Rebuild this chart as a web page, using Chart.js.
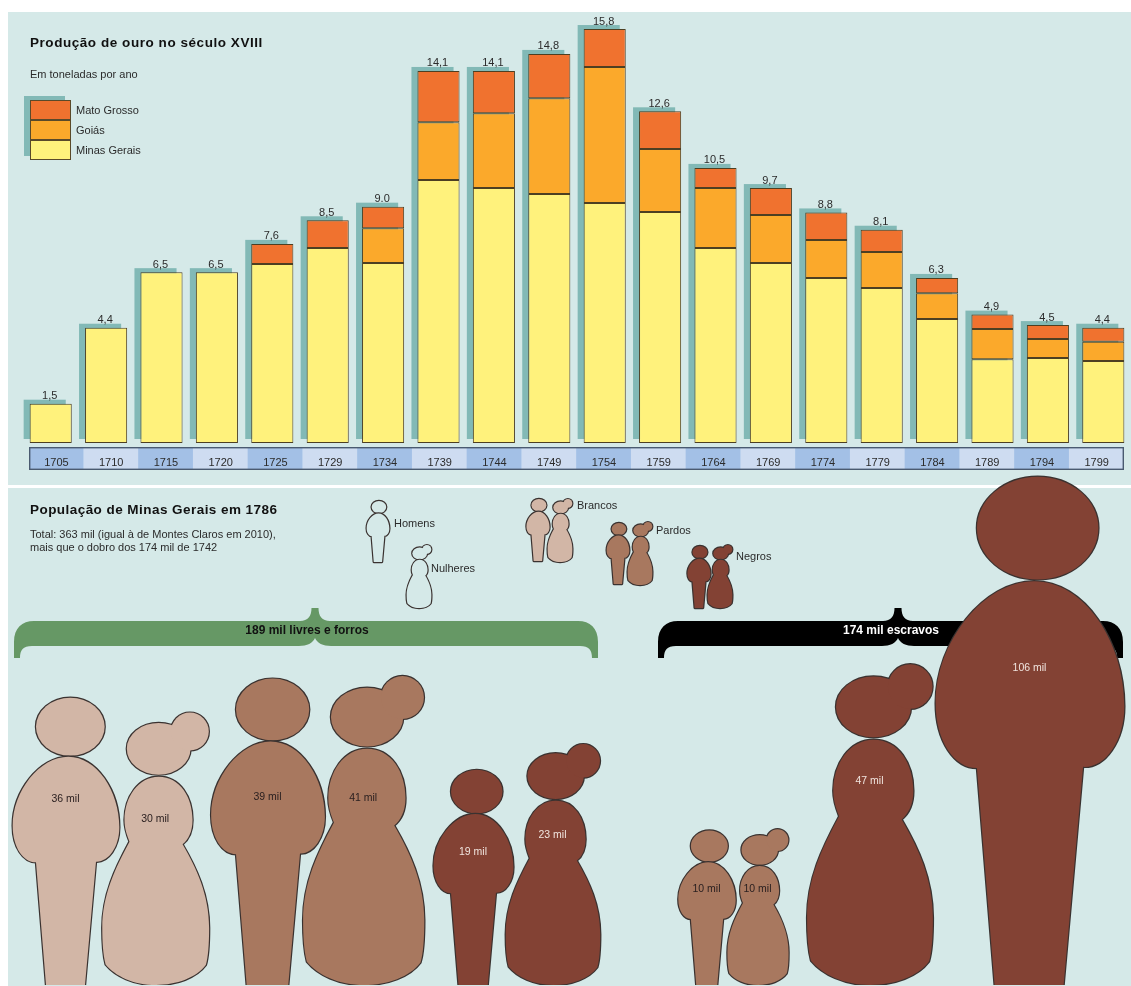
<!DOCTYPE html>
<html>
<head>
    <title>Produção de ouro e população de Minas Gerais</title>
    <style>
        html, body {
            margin: 0;
            padding: 0;
            background-color: #ffffff;
            overflow: hidden;
        }

        .page {
            position: relative;
            width: 1131px;
            height: 986px;
            overflow: hidden;
            font-family: "Liberation Sans", Arial, sans-serif;
            color: #2b2b2b;
        }

        .panel {
            position: absolute;
            left: 8px;
            right: 0;
            background-color: #d5e9e8;
        }

        canvas {
            position: absolute;
        }

        .label {
            position: absolute;
            white-space: nowrap;
            font-size: 11px;
            line-height: 13px;
        }

        .title {
            font-size: 13.5px;
            font-weight: bold;
            letter-spacing: 0.55px;
            color: #111111;
            line-height: 16px;
        }

        .swatch {
            position: absolute;
            left: 30px;
            width: 41px;
            height: 20px;
            box-sizing: border-box;
            border: 1px solid #5a4a2a;
        }
    </style>
    <script src="https://cdnjs.cloudflare.com/ajax/libs/Chart.js/4.4.1/chart.umd.js"></script>
</head>
<body>
    <div class="page" id="page">
        <div class="panel" style="top: 12px; height: 473px;"></div>
        <div class="panel" style="top: 488px; height: 498px;"></div>

        <canvas id="goldChart" width="1108" height="431" style="left: 23px; top: 12px;"></canvas>
        <canvas id="yearChart" width="1095" height="23" style="left: 29px; top: 447px;"></canvas>
        <canvas id="peopleChart" width="1131" height="515" style="left: 0; top: 470px;"></canvas>

        <div class="label title" style="left: 30px; top: 35px;">Produção de ouro no século XVIII</div>
        <div class="label" style="left: 30px; top: 68px;">Em toneladas por ano</div>

        <div style="position: absolute; left: 24px; top: 96px; width: 41px; height: 60px; background-color: #82b9b6;"></div>

        <div class="label title" style="left: 30px; top: 502px; letter-spacing: 0.45px;">População de Minas Gerais em 1786</div>
        <div class="label" style="left: 30px; top: 528px;">Total: 363 mil (igual à de Montes Claros em 2010),<br>mais que o dobro dos 174 mil de 1742</div>

        <div class="label" style="left: 394px; top: 517px;">Homens</div>
        <div class="label" style="left: 431px; top: 562px;">Nulheres</div>
        <div class="label" style="left: 577px; top: 499px;">Brancos</div>
        <div class="label" style="left: 656px; top: 524px;">Pardos</div>
        <div class="label" style="left: 736px; top: 550px;">Negros</div>
    </div>

    <script>
        // Gold production, tonnes per year
        const years = ['1705', '1710', '1715', '1720', '1725', '1729', '1734', '1739', '1744', '1749',
                       '1754', '1759', '1764', '1769', '1774', '1779', '1784', '1789', '1794', '1799'];
        const minasGerais = [1.5, 4.4, 6.52, 6.52, 6.83, 7.44, 6.87, 10.04, 9.73, 9.5,
                             9.16, 8.82, 7.44, 6.87, 6.3, 5.92, 4.73, 3.2, 3.24, 3.13];
        const goias = [null, null, null, null, null, null, 1.33, 2.2, 2.86, 3.66,
                       5.19, 2.4, 2.29, 1.83, 1.45, 1.37, 0.99, 1.15, 0.73, 0.73];
        const matoGrosso = [null, null, null, null, 0.77, 1.06, 0.82, 1.96, 1.61, 1.69,
                            1.45, 1.44, 0.77, 1.03, 1.05, 0.85, 0.58, 0.55, 0.53, 0.54];
        const totalLabels = ['1,5', '4,4', '6,5', '6,5', '7,6', '8,5', '9.0', '14,1', '14,1', '14,8',
                             '15,8', '12,6', '10,5', '9,7', '8,8', '8,1', '6,3', '4,9', '4,5', '4,4'];
        const seriesNames = ['Minas Gerais', 'Goiás', 'Mato Grosso'];

        // Population of Minas Gerais, thousands
        const peopleValues = [36, 30, 39, 41, 19, 23, 10, 10, 47, 106];
        const peopleLabels = ['36 mil', '30 mil', '39 mil', '41 mil', '19 mil', '23 mil', '10 mil', '10 mil', '47 mil', '106 mil'];
        const peopleKinds = ['man', 'woman', 'man', 'woman', 'man', 'woman', 'man', 'woman', 'woman', 'man'];
        const peopleGroups = ['branco', 'branco', 'pardo', 'pardo', 'negro', 'negro', 'pardo', 'pardo', 'negro', 'negro'];
        const bracketLabels = ['189 mil livres e forros', '174 mil escravos'];

        // Layout only: where each figure stands, size corrections and label height
        const peopleSlots = [66, 155.7, 268, 363.7, 473.5, 553, 707, 758, 870, 1030];
        const sizeTweak = [0.97, 1.01, 0.994, 0.98, 1.0, 1.02, 0.99, 1.0, 0.95, 1.0];
        const labelHeights = [0.352, 0.39, 0.385, 0.395, 0.38, 0.38, 0.377, 0.385, 0.364, 0.375];

        const groupColors = { branco: '#d2b6a6', pardo: '#a8785f', negro: '#834234' };
        const shadowColor = '#82b9b6';
        const barColors = ['#fff27c', '#fba92b', '#f0722f'];

        // Silhouettes, traced in a unit of their own. Anchor is the middle of the feet.
        const shapes = {
            man: {
                cx: 198, top: 82, bottom: 943,
                parts: [
                    new Path2D('M 108 168 A 103 87 0 1 1 314 168 A 103 87 0 1 1 108 168 Z'),
                    new Path2D('M 205 258 C 290 258 358 360 358 470 C 358 530 325 575 288 573 L 255 943 L 138 943 L 108 575 C 70 575 38 530 38 465 C 38 360 120 258 205 258 Z')
                ]
            },
            woman: {
                cx: 467, top: 120, bottom: 942,
                parts: [
                    new Path2D('M 380 230 A 96 78 0 1 1 572 230 A 96 78 0 1 1 380 230 Z'),
                    new Path2D('M 513 178 A 57 57 0 1 1 627 178 A 57 57 0 1 1 513 178 Z'),
                    new Path2D('M 476 314 C 540 314 578 375 578 445 C 578 480 565 505 548 518 C 590 590 628 670 628 770 C 628 820 625 860 618 882 C 590 920 530 942 468 942 C 400 942 345 915 316 880 C 308 850 306 810 306 770 C 306 670 345 590 388 510 C 380 490 373 470 373 445 C 373 375 415 314 476 314 Z')
                ]
            }
        };

        function drawFigure(ctx, kind, centerX, topY, bottomY, fill, outline) {
            const shape = shapes[kind];
            const s = (bottomY - topY) / (shape.bottom - shape.top);
            ctx.save();
            ctx.translate(centerX - shape.cx * s, bottomY - shape.bottom * s);
            ctx.scale(s, s);
            // stroke first then fill on top, so the head and the bun melt into one outline
            ctx.strokeStyle = outline;
            ctx.lineWidth = 2.4 / s;
            ctx.lineJoin = 'round';
            ctx.fillStyle = fill;
            const head = kind === 'woman' ? shape.parts.slice(0, 2) : shape.parts.slice(0, 1);
            const body = shape.parts[shape.parts.length - 1];
            head.forEach(function(part) { ctx.stroke(part); });
            head.forEach(function(part) { ctx.fill(part); });
            ctx.stroke(body);
            ctx.fill(body);
            ctx.restore();
        }

        // Curly brace over a group: tip up at xm, legs down at x0 and x1
        function drawBracket(ctx, x0, x1, xm, color) {
            ctx.fillStyle = color;
            ctx.beginPath();
            ctx.moveTo(x0, 188);
            ctx.lineTo(x0, 172);
            ctx.bezierCurveTo(x0, 158, x0 + 8, 151, x0 + 20, 151);
            ctx.lineTo(xm - 15, 151);
            ctx.bezierCurveTo(xm - 7, 151, xm - 3.5, 146, xm - 3.5, 138);
            ctx.lineTo(xm + 3.5, 138);
            ctx.bezierCurveTo(xm + 3.5, 146, xm + 7, 151, xm + 15, 151);
            ctx.lineTo(x1 - 20, 151);
            ctx.bezierCurveTo(x1 - 8, 151, x1, 158, x1, 172);
            ctx.lineTo(x1, 188);
            ctx.lineTo(x1 - 6, 188);
            ctx.bezierCurveTo(x1 - 6, 180, x1 - 9, 176, x1 - 18, 176);
            ctx.lineTo(xm + 16, 176);
            ctx.bezierCurveTo(xm + 8, 176, xm + 2, 173, xm, 168);
            ctx.bezierCurveTo(xm - 2, 173, xm - 8, 176, xm - 16, 176);
            ctx.lineTo(x0 + 18, 176);
            ctx.bezierCurveTo(x0 + 9, 176, x0 + 6, 180, x0 + 6, 188);
            ctx.closePath();
            ctx.fill();
        }

        // Legend of the gold chart
        [2, 1, 0].forEach(function(s, row) {
            const page = document.getElementById('page');
            const box = document.createElement('div');
            box.className = 'swatch';
            box.style.top = (100 + row * 20) + 'px';
            box.style.backgroundColor = barColors[s];
            page.appendChild(box);
            const name = document.createElement('div');
            name.className = 'label';
            name.style.left = '76px';
            name.style.top = (104 + row * 20) + 'px';
            name.textContent = seriesNames[s];
            page.appendChild(name);
        });

        function columnTop(chart, bar, i) {
            return Math.min(bar.y,
                goias[i] === null ? bar.y : chart.getDatasetMeta(1).data[i].y,
                matoGrosso[i] === null ? bar.y : chart.getDatasetMeta(2).data[i].y);
        }

        // Shadow behind each column and the total above it
        const columnDecor = {
            id: 'columnDecor',
            beforeDatasetsDraw: function(chart) {
                const ctx = chart.ctx;
                ctx.save();
                ctx.fillStyle = shadowColor;
                chart.getDatasetMeta(0).data.forEach(function(bar, i) {
                    const top = columnTop(chart, bar, i);
                    ctx.fillRect(bar.x - bar.width / 2 - 6, top - 4, bar.width, bar.base - top);
                });
                ctx.restore();
            },
            afterDatasetsDraw: function(chart) {
                const ctx = chart.ctx;
                ctx.save();
                ctx.fillStyle = '#2b2b2b';
                ctx.font = '11px "Liberation Sans", Arial, sans-serif';
                ctx.textAlign = 'center';
                ctx.textBaseline = 'alphabetic';
                chart.getDatasetMeta(0).data.forEach(function(bar, i) {
                    ctx.fillText(totalLabels[i], bar.x - 1, columnTop(chart, bar, i) - 4.5);
                });
                ctx.restore();
            }
        };

        new Chart(document.getElementById('goldChart'), {
            type: 'bar',
            data: {
                labels: years,
                datasets: [minasGerais, goias, matoGrosso].map(function(values, s) {
                    return {
                        label: seriesNames[s],
                        data: values,
                        backgroundColor: barColors[s],
                        borderColor: '#4d3f22',
                        borderWidth: 1,
                        borderSkipped: false,
                        barPercentage: 0.76,
                        categoryPercentage: 1,
                        clip: false
                    };
                })
            },
            options: {
                responsive: false,
                animation: false,
                events: [],
                layout: { padding: 0 },
                plugins: { legend: { display: false }, tooltip: { enabled: false } },
                scales: {
                    x: { stacked: true, display: false },
                    y: { stacked: true, display: false, min: 0, max: 16.45 }
                }
            },
            plugins: [columnDecor]
        });

        // The year strip is a one-row bar chart of its own
        const yearStrip = {
            id: 'yearStrip',
            afterDatasetsDraw: function(chart) {
                const ctx = chart.ctx;
                const xs = chart.scales.x;
                ctx.save();
                ctx.fillStyle = '#2b2b2b';
                ctx.font = '11px "Liberation Sans", Arial, sans-serif';
                ctx.textAlign = 'center';
                ctx.textBaseline = 'alphabetic';
                years.forEach(function(year, i) {
                    ctx.fillText(year, xs.getPixelForValue(i), 19);
                });
                ctx.strokeStyle = '#4a5a70';
                ctx.lineWidth = 1.4;
                ctx.strokeRect(0.7, 0.7, chart.width - 1.4, chart.height - 1.4);
                ctx.restore();
            }
        };

        new Chart(document.getElementById('yearChart'), {
            type: 'bar',
            data: {
                labels: years,
                datasets: [{
                    data: years.map(function() { return 1; }),
                    backgroundColor: years.map(function(y, i) { return i % 2 === 0 ? '#a3c0e6' : '#cedcf1'; }),
                    barPercentage: 1,
                    categoryPercentage: 1
                }]
            },
            options: {
                responsive: false,
                animation: false,
                events: [],
                layout: { padding: 0 },
                plugins: { legend: { display: false }, tooltip: { enabled: false } },
                scales: {
                    x: { display: false },
                    y: { display: false, min: 0, max: 1 }
                }
            },
            plugins: [yearStrip]
        });

        // Figures: height on the y scale goes with the square root of the population, so area shows the value
        const peopleDecor = {
            id: 'peopleDecor',
            beforeDatasetsDraw: function(chart) {
                const ctx = chart.ctx;
                ctx.save();
                drawBracket(ctx, 14, 598, 315, '#669865');
                drawBracket(ctx, 658, 1123, 898, '#000000');
                ctx.font = 'bold 12px "Liberation Sans", Arial, sans-serif';
                ctx.textAlign = 'center';
                ctx.textBaseline = 'alphabetic';
                ctx.fillStyle = '#111111';
                ctx.fillText(bracketLabels[0], 307, 164);
                ctx.fillStyle = '#ffffff';
                ctx.fillText(bracketLabels[1], 891, 164);
                ctx.restore();
            },
            afterDatasetsDraw: function(chart) {
                const ctx = chart.ctx;
                const base = chart.scales.y.getPixelForValue(0);
                const points = chart.getDatasetMeta(0).data;
                points.forEach(function(pt, i) {
                    drawFigure(ctx, peopleKinds[i], pt.x, pt.y, base, groupColors[peopleGroups[i]], '#3a3230');
                });
                ctx.save();
                ctx.font = '10.5px "Liberation Sans", Arial, sans-serif';
                ctx.textAlign = 'center';
                ctx.textBaseline = 'middle';
                points.forEach(function(pt, i) {
                    ctx.fillStyle = peopleGroups[i] === 'negro' ? '#f0e4de' : '#2b2020';
                    ctx.fillText(peopleLabels[i], pt.x - 0.5, pt.y + (base - pt.y) * labelHeights[i]);
                });
                ctx.restore();

                // Key figures at the top of the panel
                const key = [
                    ['man', 378, 31, 92, '#d5e9e8'],
                    ['woman', 419, 75, 138, '#d5e9e8'],
                    ['man', 538, 29, 91, groupColors.branco],
                    ['woman', 560, 29, 92, groupColors.branco],
                    ['man', 618, 53, 114, groupColors.pardo],
                    ['woman', 640, 52, 115, groupColors.pardo],
                    ['man', 699, 76, 138, groupColors.negro],
                    ['woman', 720, 75, 138, groupColors.negro]
                ];
                key.forEach(function(k) {
                    drawFigure(ctx, k[0], k[1], k[2], k[3], k[4], '#3a3230');
                });
            }
        };

        new Chart(document.getElementById('peopleChart'), {
            type: 'scatter',
            data: {
                datasets: [{
                    data: peopleValues.map(function(v, i) {
                        return { x: peopleSlots[i], y: Math.sqrt(v) * sizeTweak[i] };
                    }),
                    pointRadius: 0
                }]
            },
            options: {
                responsive: false,
                animation: false,
                events: [],
                layout: { padding: 0 },
                plugins: { legend: { display: false }, tooltip: { enabled: false } },
                scales: {
                    x: { type: 'linear', display: false, min: 0, max: 1131 },
                    y: { type: 'linear', display: false, min: 0, max: 10.446 }
                }
            },
            plugins: [peopleDecor]
        });
    </script>
</body>
</html>
